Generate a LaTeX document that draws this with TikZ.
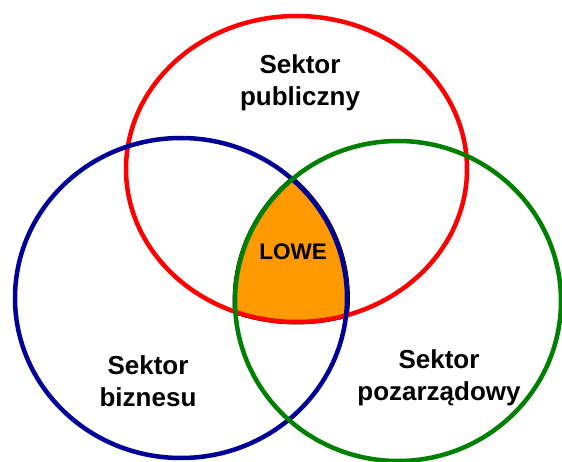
\documentclass[tikz,border=0pt]{standalone}
\usepackage{fontspec}
\setmainfont{Liberation Sans}
\definecolor{cred}{HTML}{FF0000}
\definecolor{cblue}{HTML}{000099}
\definecolor{cgreen}{HTML}{008000}
\definecolor{corange}{HTML}{FF9900}
\begin{document}
\begin{tikzpicture}[x=1pt,y=-1pt,
  ring/.style={line width=4.5pt},
  lbl/.style={align=center,font=\bfseries\fontsize{26}{32}\selectfont,inner sep=0pt},
  core/.style={font=\bfseries\fontsize{22.5}{27}\selectfont,inner sep=0pt}]
\useasboundingbox (0,0) rectangle (562,462);
% orange common part, slightly larger than the exact intersection, with black outline
\begin{scope}
  \clip (181,298) ellipse [x radius=168.5pt, y radius=162.5pt];
  \clip (398,301) ellipse [x radius=165pt, y radius=162pt];
  \filldraw[fill=corange,draw=black,line width=0.8pt] (296.5,169) ellipse [x radius=172.5pt, y radius=155pt];
\end{scope}
\begin{scope}
  \clip (296.5,169) ellipse [x radius=172.5pt, y radius=155pt];
  \clip (398,301) ellipse [x radius=165pt, y radius=162pt];
  \draw[black,line width=0.8pt] (181,298) ellipse [x radius=168.5pt, y radius=162.5pt];
\end{scope}
\begin{scope}
  \clip (296.5,169) ellipse [x radius=172.5pt, y radius=155pt];
  \clip (181,298) ellipse [x radius=168.5pt, y radius=162.5pt];
  \draw[black,line width=0.8pt] (398,301) ellipse [x radius=165pt, y radius=162pt];
\end{scope}
% the three sectors
\draw[ring,cred] (296.5,169) ellipse [x radius=170.5pt, y radius=153pt];
\draw[ring,cblue] (181,298) ellipse [x radius=166pt, y radius=160pt];
\draw[ring,cgreen] (398,301) ellipse [x radius=163pt, y radius=160pt];
% labels
\node[lbl] (pub) at (300,83) {Sektor\\publiczny};
\node[lbl] (biz) at (148,381) {Sektor\\biznesu};
\node[lbl] (ngo) at (439,377.5) {Sektor\\pozarządowy};
\node[core] (lowe) at (293,252) {LOWE};
\end{tikzpicture}
\end{document}
